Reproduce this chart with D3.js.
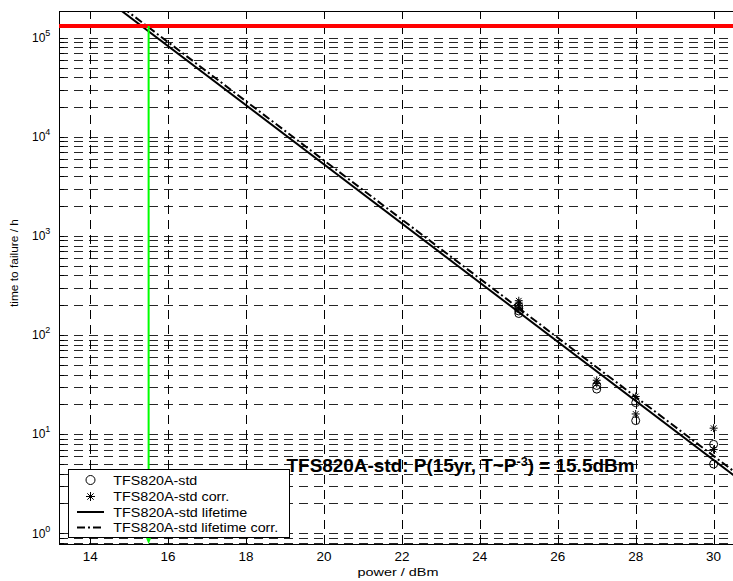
<!DOCTYPE html>
<html>
<head>
<meta charset="utf-8">
<script src="https://cdn.jsdelivr.net/npm/d3@7"></script>
<style>
  html, body { margin: 0; padding: 0; background: #fff; }
  svg { display: block; }
  text { font-family: "Liberation Sans", Arial, Helvetica, sans-serif; fill: #000; }
</style>
</head>
<body>
<svg id="chart" width="733" height="581"></svg>
<script>
// ---------------- data ----------------
const xTicks = [14, 16, 18, 20, 22, 24, 26, 28, 30];
const yDecades = [0, 1, 2, 3, 4, 5];
// measured lifetimes (h)
const stdPower = [25, 25, 25, 25, 27, 27, 28, 28, 30, 30];
const stdHours = [165, 175, 185, 195, 28.5, 31, 20.8, 13.7, 7.9, 5.0];
const corrPower = [25, 25, 25, 25, 27, 27, 28, 28, 30, 30];
const corrHours = [185, 198, 210, 222, 32.5, 35, 24, 16, 11.5, 7.0];
// fitted lifetime lines (endpoints)
const fitPower = [13.2, 30.6];
const fitHours = [562000, 3.64];
const fitCorrHours = [617000, 3.99];
// 15 years target
const targetHours = 131400;
const targetPower = 15.5;
const legendLabels = ["TFS820A-std", "TFS820A-std corr.", "TFS820A-std lifetime", "TFS820A-std lifetime corr."];
const legendWidths = [84, 116, 134, 165];

// ---------------- layout ----------------
const svg = d3.select("#chart");
const L = 59, T = 11, R = 737, B = 544;
const x = d3.scaleLinear().domain([13.2, 30.6]).range([L, R]);
const y = d3.scaleLog().domain([0.78, 186000]).range([B, T]);

svg.append("defs").append("clipPath").attr("id", "clip")
  .append("rect").attr("x", L).attr("y", T).attr("width", R - L).attr("height", B - T);

const grid = svg.append("g").attr("stroke", "#000").attr("stroke-width", 1)
  .attr("stroke-dasharray", "9,6").attr("fill", "none");

// horizontal grid (major + minor)
const yGridVals = [];
yDecades.forEach(d => { for (let m = 1; m <= 9; m++) { const v = m * Math.pow(10, d); if (v >= 0.78 && v <= 186000) yGridVals.push(v); } });
yGridVals.push(0.8, 0.9);
grid.selectAll("line.h").data(yGridVals).enter().append("line")
  .attr("x1", L).attr("x2", R)
  .attr("y1", d => Math.round(y(d)) + 0.5).attr("y2", d => Math.round(y(d)) + 0.5)
  .attr("stroke-opacity", 0.85);
// vertical grid
grid.selectAll("line.v").data(xTicks).enter().append("line")
  .attr("x1", d => Math.round(x(d)) + 0.5).attr("x2", d => Math.round(x(d)) + 0.5)
  .attr("y1", B).attr("y2", T);

// ticks (inward)
const ticks = svg.append("g").attr("stroke", "#000").attr("stroke-width", 1);
xTicks.forEach(v => {
  const xx = Math.round(x(v)) + 0.5;
  ticks.append("line").attr("x1", xx).attr("x2", xx).attr("y1", B).attr("y2", B - 6);
  ticks.append("line").attr("x1", xx).attr("x2", xx).attr("y1", T).attr("y2", T + 6);
});
yGridVals.forEach(v => {
  const yy = Math.round(y(v)) + 0.5;
  ticks.append("line").attr("x1", L).attr("x2", L + 5).attr("y1", yy).attr("y2", yy);
});

// axes box
svg.append("g").call(g => {
  g.append("line").attr("x1", L).attr("x2", R).attr("y1", T + 0.5).attr("y2", T + 0.5).attr("stroke", "#000");
  g.append("line").attr("x1", L).attr("x2", R).attr("y1", B + 0.5).attr("y2", B + 0.5).attr("stroke", "#000");
  g.append("line").attr("x1", L + 0.5).attr("x2", L + 0.5).attr("y1", T).attr("y2", B + 1).attr("stroke", "#000");
});

// tick labels
svg.append("g").selectAll("text").data(xTicks).enter().append("text")
  .attr("x", d => x(d)).attr("y", 560.5).attr("text-anchor", "middle")
  .attr("font-size", 12).attr("textLength", 15).attr("lengthAdjust", "spacingAndGlyphs")
  .text(d => d);
const yl = svg.append("g").selectAll("text").data(yDecades).enter().append("text")
  .attr("x", 32).attr("y", d => y(Math.pow(10, d)) + 4.2).attr("font-size", 12);
yl.append("tspan").text("10");
yl.append("tspan").attr("dy", -6).attr("font-size", 9).text(d => d);

// axis labels
svg.append("text").attr("x", 398).attr("y", 576).attr("text-anchor", "middle")
  .attr("font-size", 11).attr("textLength", 81).attr("lengthAdjust", "spacingAndGlyphs")
  .text("power / dBm");
svg.append("text").attr("transform", "translate(18,263) rotate(-90)").attr("text-anchor", "middle")
  .attr("font-size", 11).attr("textLength", 88).attr("lengthAdjust", "spacingAndGlyphs")
  .text("time to failure / h");

// plot content
const plot = svg.append("g").attr("clip-path", "url(#clip)");
const line = d3.line().x(d => x(d[0])).y(d => y(d[1]));
plot.append("path").datum(fitPower.map((p, i) => [p, fitHours[i]]))
  .attr("d", line).attr("fill", "none").attr("stroke", "#000").attr("stroke-width", 2);
plot.append("path").datum(fitPower.map((p, i) => [p, fitCorrHours[i]]))
  .attr("d", line).attr("fill", "none").attr("stroke", "#000").attr("stroke-width", 2)
  .attr("stroke-dasharray", "8,3,2,3");

// markers
const starPath = s => {
  const d = s * 0.7071;
  return `M0,${-s}V${s}M${-s},0H${s}M${-d},${-d}L${d},${d}M${-d},${d}L${d},${-d}`;
};
plot.selectAll("circle.std").data(stdPower.map((p, i) => [p, stdHours[i]])).enter().append("circle")
  .attr("cx", d => x(d[0])).attr("cy", d => y(d[1])).attr("r", 4)
  .attr("fill", "none").attr("stroke", "#000").attr("stroke-width", 1);
plot.selectAll("path.corr").data(corrPower.map((p, i) => [p, corrHours[i]])).enter().append("path")
  .attr("transform", d => `translate(${x(d[0])},${y(d[1])})`).attr("d", starPath(4))
  .attr("fill", "none").attr("stroke", "#000").attr("stroke-width", 1);

// red 15-year line
svg.append("line").attr("x1", L).attr("x2", 733).attr("y1", y(targetHours)).attr("y2", y(targetHours))
  .attr("stroke", "#ff0000").attr("stroke-width", 4);
// green arrow
const gx = x(targetPower);
svg.append("line").attr("x1", gx).attr("x2", gx).attr("y1", y(targetHours)).attr("y2", B - 10)
  .attr("stroke", "#00ff00").attr("stroke-width", 2);
svg.append("path").attr("d", `M${gx - 6},${B - 14}L${gx + 6},${B - 14}L${gx},${B}Z`).attr("fill", "#00ff00");

// annotation
const ann = svg.append("text").attr("x", 286.5).attr("y", 472).attr("font-size", 18).attr("font-weight", "bold")
  .attr("textLength", 348).attr("lengthAdjust", "spacingAndGlyphs");
ann.append("tspan").text("TFS820A-std: P(15yr, T~P");
ann.append("tspan").attr("dy", -6).attr("font-size", 12).text("-3");
ann.append("tspan").attr("dy", 6).text(") = 15.5dBm");

// legend
const lg = svg.append("g");
lg.append("rect").attr("x", 68.5).attr("y", 469.5).attr("width", 221).attr("height", 68)
  .attr("fill", "#fff").attr("stroke", "#000").attr("stroke-width", 1);
const rows = [480, 496.5, 512, 527.5];
lg.append("circle").attr("cx", 90.5).attr("cy", rows[0]).attr("r", 4.5).attr("fill", "none").attr("stroke", "#000");
lg.append("path").attr("transform", `translate(90.5,${rows[1]})`).attr("d", starPath(4.5)).attr("fill", "none").attr("stroke", "#000");
lg.append("line").attr("x1", 77).attr("x2", 104).attr("y1", rows[2]).attr("y2", rows[2]).attr("stroke", "#000").attr("stroke-width", 2);
lg.append("line").attr("x1", 77).attr("x2", 104).attr("y1", rows[3]).attr("y2", rows[3]).attr("stroke", "#000").attr("stroke-width", 2).attr("stroke-dasharray", "8,3,2,3");
lg.selectAll("text").data(legendLabels).enter().append("text")
  .attr("x", 113.3).attr("y", (d, i) => rows[i] + 4.5).attr("font-size", 13)
  .attr("textLength", (d, i) => legendWidths[i]).attr("lengthAdjust", "spacingAndGlyphs")
  .text(d => d);
</script>
</body>
</html>
